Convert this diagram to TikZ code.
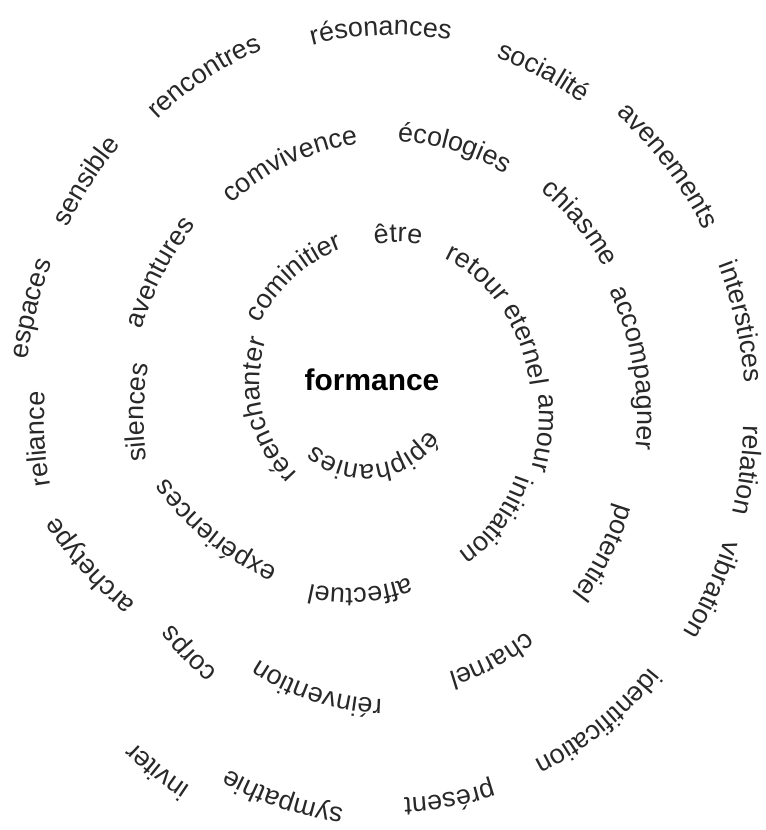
\documentclass[tikz,border=0pt]{standalone}
\usepackage{fontspec}
\setmainfont{Liberation Sans}
\usetikzlibrary{decorations.text}
\definecolor{wordgray}{RGB}{40,40,40}
\tikzset{wordpath/.style={decorate,decoration={text along path,text={#1},text align=center,text color=wordgray}}}
% word on a ring ellipse: #1 cx, #2 cy, #3 a, #4 b (image coords), #5 x, #6 y (word centre), #7 half span, #8 text
\newcommand\ringword[8]{%
  \pgfmathsetmacro\rwX{(#5-#1)/#3}%
  \pgfmathsetmacro\rwY{(#2-#6)/#4}%
  \pgfmathsetmacro\rwT{atan2(\rwY,\rwX)}%
  \pgfmathsetmacro\rwD{sqrt(\rwX*\rwX+\rwY*\rwY)}%
  \pgfmathsetmacro\rwA{#3*\rwD-8}%
  \pgfmathsetmacro\rwB{#4*\rwD-8}%
  \path[wordpath={#8}]
    (#1,830-#2) ++({\rwT+#7}:{\rwA} and {\rwB})
    arc[start angle={\rwT+#7}, end angle={\rwT-#7}, x radius=\rwA, y radius=\rwB];
}
% word on its own circle: #1 x, #2 y (word centre, image coords), #3 outward normal angle, #4 radius, #5 text
\newcommand\cword[5]{%
  \pgfmathsetmacro\rwR{#4-8}%
  \pgfmathsetmacro\rwS{min(85,11459/#4)}%
  \path[wordpath={#5}]
    (#1,830-#2) ++({#3+180}:#4) ++({#3+\rwS}:\rwR)
    arc[start angle={#3+\rwS}, end angle={#3-\rwS}, radius=\rwR];
}
\newcommand\outerw[3]{\ringword{392}{417}{355}{390}{#1}{#2}{35}{#3}}
\newcommand\middlew[3]{\ringword{388}{418}{252}{280}{#1}{#2}{45}{#3}}
\newcommand\innerw[3]{\ringword{398}{414}{148}{180}{#1}{#2}{45}{#3}}
\begin{document}
\begin{tikzpicture}[x=1bp,y=1bp]
\useasboundingbox (0,0) rectangle (766,830);
\fontsize{27}{30}\selectfont
\node[font=\bfseries\fontsize{30}{32}\selectfont, text=black] (center) at (372,830-380) {formance};
% outer ring
\outerw{381}{27}{résonances}
\outerw{540}{68}{socialité}
\outerw{668}{158}{avenements}
\outerw{743}{318}{interstices}
\outerw{748}{472}{relation}
\outerw{712}{595}{vibration}
\outerw{597}{730}{identification}
\outerw{448}{801}{présent}
\outerw{285}{803}{sympathie}
\outerw{162}{776}{inviter}
\cword{87}{568}{-138}{420}{archetype}
\outerw{37}{440}{reliance}
\outerw{30}{305}{espaces}
\outerw{88}{175}{sensible}
\outerw{207}{70}{rencontres}
% middle ring
\middlew{292}{155}{comvivence}
\middlew{452}{142}{écologies}
\middlew{577}{215}{chiasme}
\middlew{641}{364}{accompagner}
\middlew{603}{560}{potentiel}
\middlew{488}{665}{charnel}
\middlew{319}{697}{réinvention}
\middlew{194}{661}{corps}
\cword{211}{537}{-129}{270}{expériences}
\middlew{136}{412}{silences}
\middlew{160}{265}{aventures}
% inner ring
\cword{289}{272}{132}{160}{cominitier}
\innerw{398}{234}{être}
\innerw{505}{300}{retour eternel}
\innerw{546}{435}{amour}
\innerw{495}{530}{initiation}
\cword{361}{596}{-86}{180}{affectuel}
\cword{255}{413}{193}{135}{réenchanter}
% innermost
\ringword{365}{390}{85}{85}{376}{472}{90}{épiphanies}
\end{tikzpicture}
\end{document}
